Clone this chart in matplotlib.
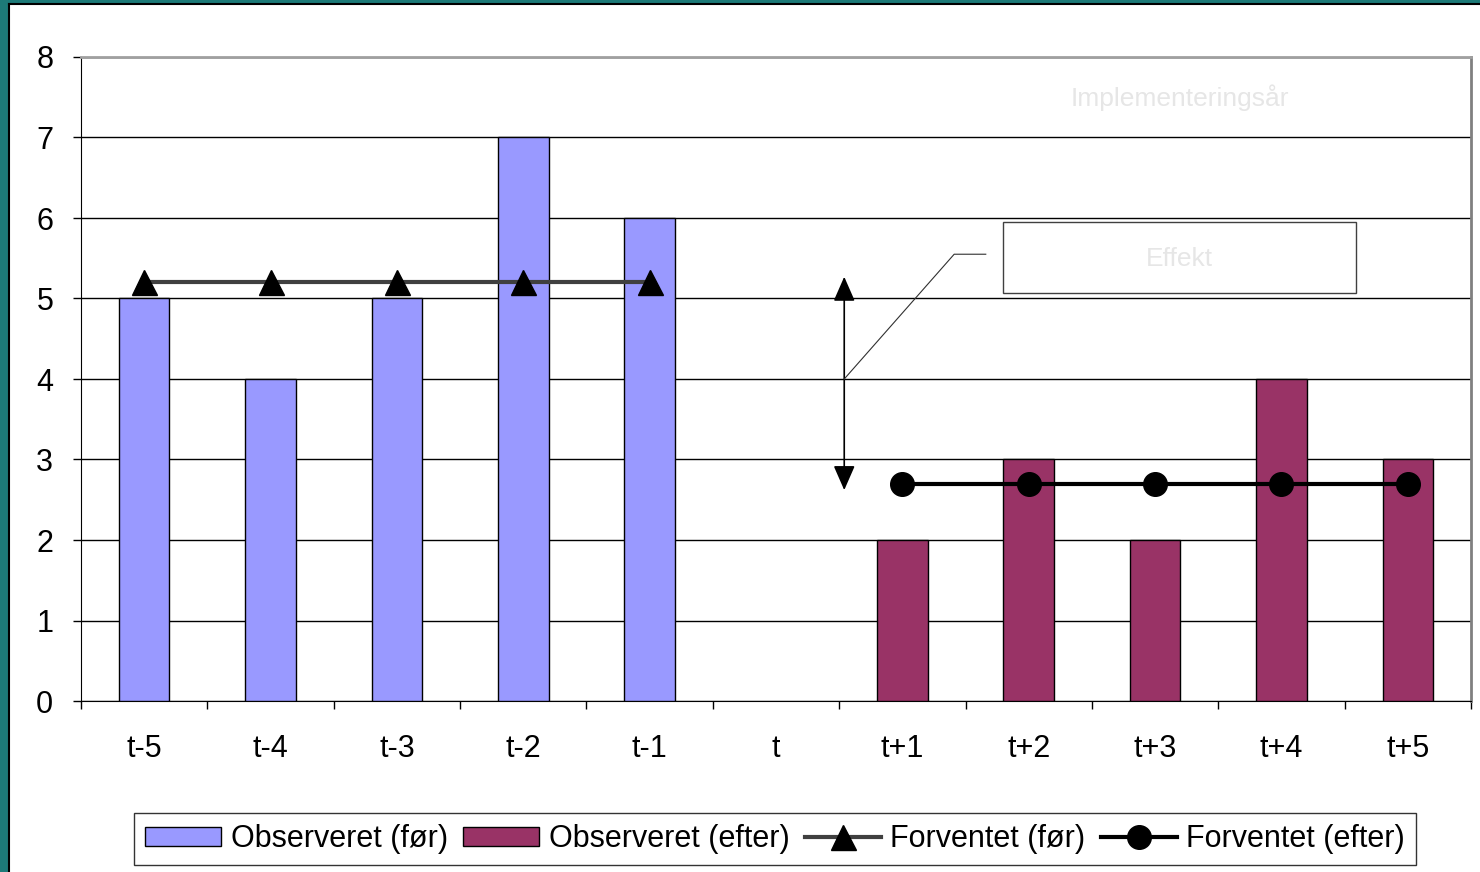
import matplotlib.pyplot as plt
from matplotlib.patches import Rectangle
import numpy as np

plt.rcParams['font.family'] = ['Liberation Sans', 'DejaVu Sans']

periods = ["t-5", "t-4", "t-3", "t-2", "t-1", "t", "t+1", "t+2", "t+3", "t+4", "t+5"]
before_idx = [0, 1, 2, 3, 4]
before_obs = [5, 4, 5, 7, 6]
after_idx = [6, 7, 8, 9, 10]
after_obs = [2, 3, 2, 4, 3]
before_exp = [5.2, 5.2, 5.2, 5.2, 5.2]
after_exp = [2.7, 2.7, 2.7, 2.7, 2.7]

fig = plt.figure(figsize=(14.8, 8.72), dpi=100)

# slide frame: teal strip on left and top with a thin black edge
fig.patches.append(Rectangle((0, 0), 8 / 1480, 1, transform=fig.transFigure,
                             facecolor="#1d7a78", edgecolor="none"))
fig.patches.append(Rectangle((0, 1 - 3 / 872), 1, 3 / 872, transform=fig.transFigure,
                             facecolor="#1d7a78", edgecolor="none"))
fig.add_artist(plt.Line2D([9 / 1480, 9 / 1480], [0, 1 - 4 / 872], transform=fig.transFigure,
                          color="black", lw=1.5))
fig.add_artist(plt.Line2D([9 / 1480, 1], [1 - 4 / 872, 1 - 4 / 872], transform=fig.transFigure,
                          color="black", lw=1.5))

ax = fig.add_axes([81 / 1480, 1 - 701 / 872, 1390 / 1480, 644 / 872])

b1 = ax.bar(before_idx, before_obs, width=0.4, color="#9999ff", edgecolor="black", lw=1,
            label="Observeret (før)", zorder=3)
b2 = ax.bar(after_idx, after_obs, width=0.4, color="#993366", edgecolor="black", lw=1,
            label="Observeret (efter)", zorder=3)
l1, = ax.plot(before_idx, before_exp, color="#404040", lw=3, marker="^", ms=18,
              mfc="black", mec="black", label="Forventet (før)", zorder=4)
l2, = ax.plot(after_idx, after_exp, color="black", lw=3, marker="o", ms=17,
              mfc="black", mec="black", label="Forventet (efter)", zorder=4)

# effect arrow between the two expected levels
ax.annotate("", xy=(5.54, 5.27), xytext=(5.54, 2.62),
            arrowprops=dict(arrowstyle="<|-|>,head_length=0.8,head_width=0.35",
                            color="#707070", lw=1.2, mutation_scale=19,
                            shrinkA=0, shrinkB=0, fc="black", ec="black"), zorder=5)
ax.plot([5.54, 6.41, 6.66], [4.0, 5.55, 5.55], color="#303030", lw=0.8, zorder=5)
ax.add_patch(Rectangle((6.80, 5.07), 2.79, 0.88, facecolor="white",
                       edgecolor="#404040", lw=1, zorder=5))
ax.text(8.195, 5.49, "Effekt", color="#e6e6e6", fontsize=19, ha="center", va="center", zorder=6)
ax.text(8.2, 7.5, "Implementeringsår", color="#e6e6e6", fontsize=19, ha="center",
        va="center", zorder=6)

ax.set_xlim(-0.5, 10.5)
ax.set_ylim(0, 8)
ax.set_yticks(range(0, 9))
ax.yaxis.grid(True, color="black", lw=1, zorder=1)
ax.set_xticks(range(len(periods)))
ax.set_xticklabels(periods)
ax.set_xticks(np.arange(-0.5, 11, 1), minor=True)
ax.tick_params(axis="x", which="major", length=0, pad=24, labelsize=22)
ax.tick_params(axis="x", which="minor", length=6, width=1, direction="out")
ax.tick_params(axis="y", length=6, width=1, direction="out", pad=14, labelsize=22)

ax.spines["left"].set_color("black")
ax.spines["bottom"].set_color("black")
ax.spines["top"].set_color("#a0a0a0")
ax.spines["right"].set_color("#808080")
ax.spines["top"].set_linewidth(2)
ax.spines["right"].set_linewidth(2)

leg = fig.legend([b1, b2, l1, l2],
                 ["Observeret (før)", "Observeret (efter)", "Forventet (før)", "Forventet (efter)"],
                 loc="center", bbox_to_anchor=(775 / 1480, 1 - 839 / 872), ncol=4,
                 fontsize=22, frameon=True, fancybox=False, edgecolor="black",
                 handlelength=2.5, handleheight=0.6, handletextpad=0.3, columnspacing=0.5,
                 borderpad=0.35, borderaxespad=0)
leg.get_frame().set_linewidth(1)

fig.savefig("out.png", dpi=100)
